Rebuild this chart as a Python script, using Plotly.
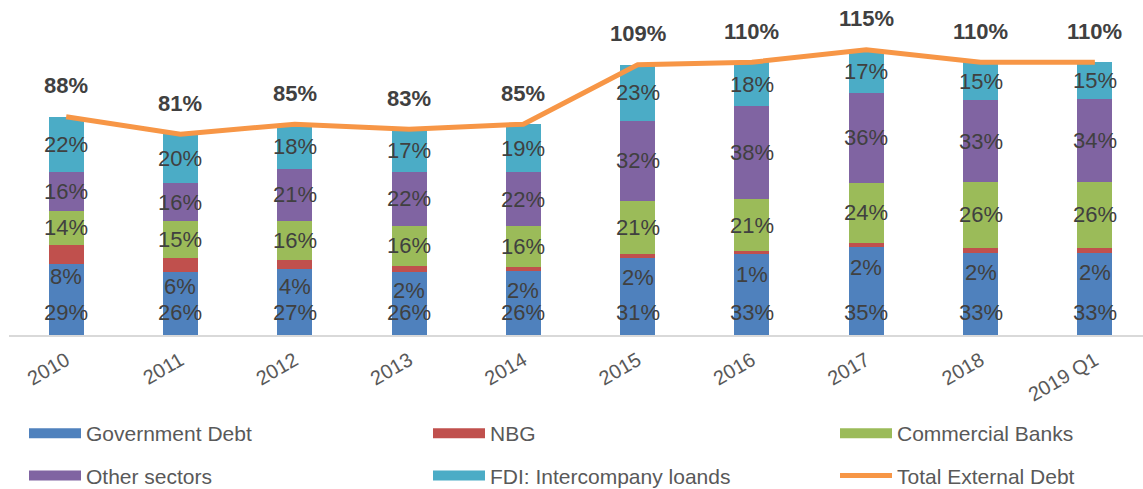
import plotly.graph_objects as go

categories = ["2010", "2011", "2012", "2013", "2014", "2015", "2016", "2017", "2018", "2019 Q1"]
government_debt = [28.6, 25.6, 26.6, 25.6, 25.8, 31.2, 32.6, 35.4, 32.9, 32.9]
nbg = [7.6, 5.6, 3.8, 2.4, 1.8, 1.6, 1.3, 1.6, 2.3, 2.3]
commercial_banks = [13.9, 14.6, 15.7, 16.1, 16.4, 21.2, 20.9, 24.4, 26.4, 26.4]
other_sectors = [15.7, 15.6, 21.0, 21.8, 21.6, 32.4, 37.6, 36.2, 33.2, 33.6]
fdi_loans = [22.2, 19.6, 17.9, 17.1, 19.4, 22.6, 17.6, 17.4, 15.2, 14.8]
total_external_debt = [88, 81, 85, 83, 85, 109, 110, 115, 110, 110]

FONT = "Liberation Sans, Arial, sans-serif"
W, H = 1143, 489
ML, MR, MT, MB = 9, 0, 0, 154
PW = W - ML - MR
PH = H - MT - MB

series = [
    ("Government Debt", government_debt, "#4F81BD", "legend", 1),
    ("NBG", nbg, "#C0504D", "legend2", 1),
    ("Commercial Banks", commercial_banks, "#9BBB59", "legend3", 1),
    ("Other sectors", other_sectors, "#8064A2", "legend", 2),
    ("FDI: Intercompany loands", fdi_loans, "#4BACC6", "legend2", 2),
]

fig = go.Figure()
for name, vals, color, lg, rank in series:
    fig.add_trace(go.Bar(
        x=categories, y=vals, name=name,
        marker=dict(color=color, line=dict(width=0)),
        showlegend=False,
    ))

fig.add_trace(go.Scatter(
    x=categories, y=total_external_debt, mode="lines",
    name="Total External Debt",
    line=dict(color="#F79646", width=5),
    legend="legend3", legendgroup="total", legendrank=2,
))

# legend entries (swatches)
for name, vals, color, lg, rank in series:
    fig.add_trace(go.Scatter(
        x=[None], y=[None], mode="lines", name=name,
        line=dict(color=color, width=10),
        legend=lg, legendgroup=name, legendrank=rank,
    ))

annotations = []
lab_font = dict(family=FONT, size=22, color="#404040")
for i, cat in enumerate(categories):
    base = 0.0
    for k, (name, vals, color, lg, rank) in enumerate(series):
        v = vals[i]
        txt = f"{v:.0f}%"
        if k == 0:
            y, ys = 0.0, 23
        elif k == 1:
            y, ys = base + v / 2, -22
        else:
            y, ys = base + v / 2, 0
        annotations.append(dict(x=i, y=y, yshift=ys, text=txt, showarrow=False,
                                font=lab_font, xref="x", yref="y"))
        base += v
    annotations.append(dict(x=i, y=total_external_debt[i], yshift=31,
                            text=f"<b>{total_external_debt[i]}%</b>", showarrow=False,
                            font=dict(family=FONT, size=22, color="#404040"),
                            xref="x", yref="y"))

def px_to_paper_x(px):
    return (px - ML) / PW

def px_to_paper_y(py):
    return (H - MB - py) / PH

leg_common = dict(orientation="v", xanchor="left", yanchor="top",
                  font=dict(family=FONT, size=21, color="#595959"),
                  bgcolor="rgba(0,0,0,0)", borderwidth=0, tracegroupgap=12,
                  itemwidth=52)

fig.update_layout(
    width=W, height=H,
    margin=dict(l=ML, r=MR, t=MT, b=MB, autoexpand=False),
    paper_bgcolor="white", plot_bgcolor="white",
    barmode="stack", bargap=0.694,
    hovermode=False,
    font=dict(family=FONT),
    xaxis=dict(type="category", range=[-0.5, -0.5 + PW / 114.3],
               showline=True, linecolor="#D9D9D9", linewidth=2,
               ticks="", showgrid=False, zeroline=False,
               tickangle=-30, ticklabelstandoff=4,
               tickfont=dict(family=FONT, size=20, color="#595959")),
    yaxis=dict(range=[0, PH / 2.48], visible=False, showgrid=False, zeroline=False),
    annotations=annotations,
    legend=dict(x=px_to_paper_x(24), y=px_to_paper_y(413), **leg_common),
    legend2=dict(x=px_to_paper_x(428), y=px_to_paper_y(413), **leg_common),
    legend3=dict(x=px_to_paper_x(835), y=px_to_paper_y(413), **leg_common),
    showlegend=True,
)

fig.write_html("out.html", config={"displayModeBar": False},
               post_script="document.body.style.margin='0px';")
